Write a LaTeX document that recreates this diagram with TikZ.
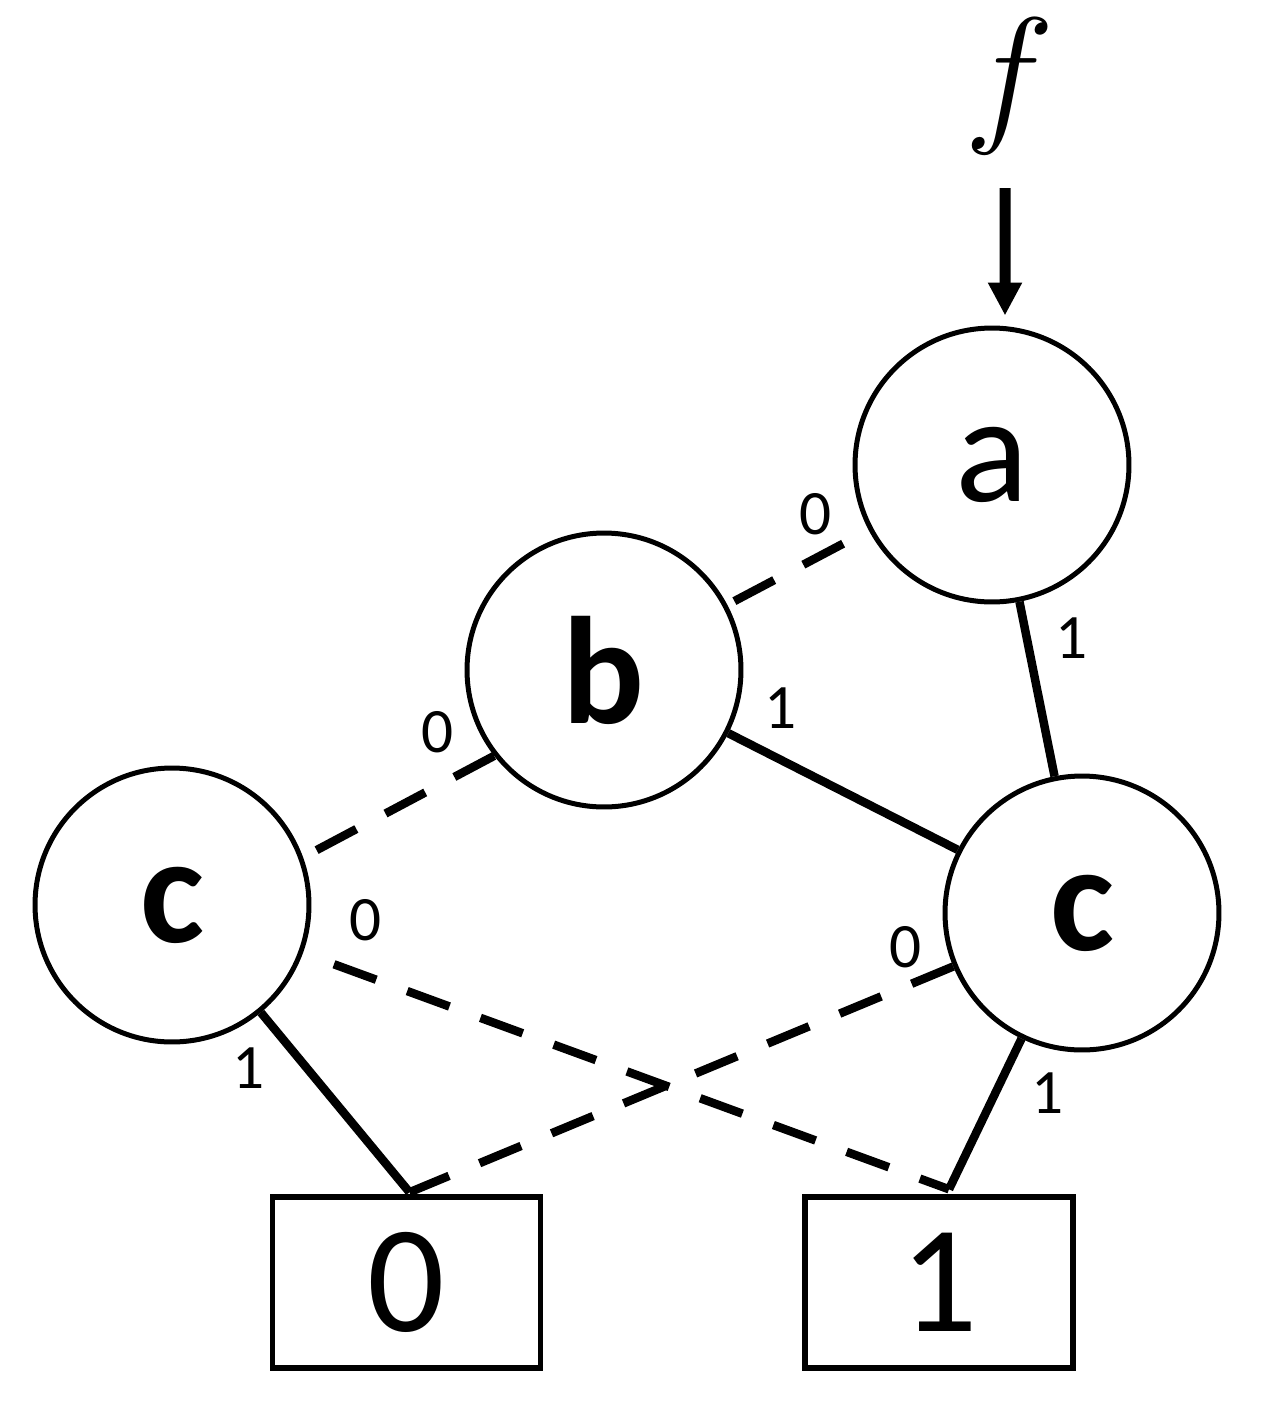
\RequirePackage{fix-cm}
\documentclass[tikz,border=0pt]{standalone}
\usepackage{fontspec}
\setmainfont{Carlito}
\usetikzlibrary{arrows.meta}
\begin{document}
\begin{tikzpicture}[x=0.02cm,y=-0.02cm,
  bddnode/.style={circle,draw,line width=0.1cm,minimum size=5.48cm,inner sep=0pt,
    font=\fontsize{87}{90}\selectfont},
  leaf/.style={draw,line width=0.11cm,minimum width=5.36cm,minimum height=3.42cm,inner sep=0pt,
    font=\fontsize{87}{90}\selectfont},
  hi/.style={line width=0.17cm},
  lo/.style={line width=0.17cm,dash pattern=on 0.9cm off 0.66cm},
  lbl/.style={font=\fontsize{36}{40}\selectfont,inner sep=0pt},
  flabel/.style={inner sep=0pt,font=\fontsize{87}{90}\selectfont}]
\useasboundingbox (0,0) rectangle (1277,1423);

\node[bddnode] (a) at (992,465) {a};
\node[bddnode] (b) at (604,670) {\bfseries b};
\node[bddnode] (c1) at (172,905) {\bfseries c};
\node[bddnode] (c2) at (1082,913) {\bfseries c};
\node[leaf] (z) at (406.5,1282.5) {0};
\node[leaf] (o) at (939,1282.5) {1};

\node[flabel] (f) at (1010,86) {$f$};
\coordinate (fin) at (1005,188);
\draw[line width=0.22cm,-{Triangle[length=0.66cm,width=0.64cm]},shorten >=0.2cm]
  (fin) -- ([xshift=0.26cm]a.north);

\coordinate (t0) at ([xshift=0.06cm,yshift=0.04cm]z.north);
\coordinate (t1) at ([xshift=0.2cm,yshift=0.1cm]o.north);

% 0-edges
\draw[lo,shorten <=0.16cm] (b) -- (a);
\draw[lo] (b.218) -- (c1.20);
\draw[lo,dash phase=0.9cm] (c1) -- (t1);
\draw[lo] (c2) -- (t0);
% 1-edges
\draw[hi] (a) -- (c2);
\draw[hi] (b) -- (c2);
\draw[hi] (c1) -- (t0);
\draw[hi] (c2) -- (t1);

% labels
\node[lbl] (lab) at (816,514) {0};
\node[lbl] (lac) at (1072,638) {1};
\node[lbl] (lbc1) at (438,732) {0};
\node[lbl] (lbc2) at (781,708) {1};
\node[lbl] (lc1o) at (366,920) {0};
\node[lbl] (lc1z) at (249,1068) {1};
\node[lbl] (lc2z) at (906,947) {0};
\node[lbl] (lc2o) at (1048,1093) {1};
\end{tikzpicture}
\end{document}
